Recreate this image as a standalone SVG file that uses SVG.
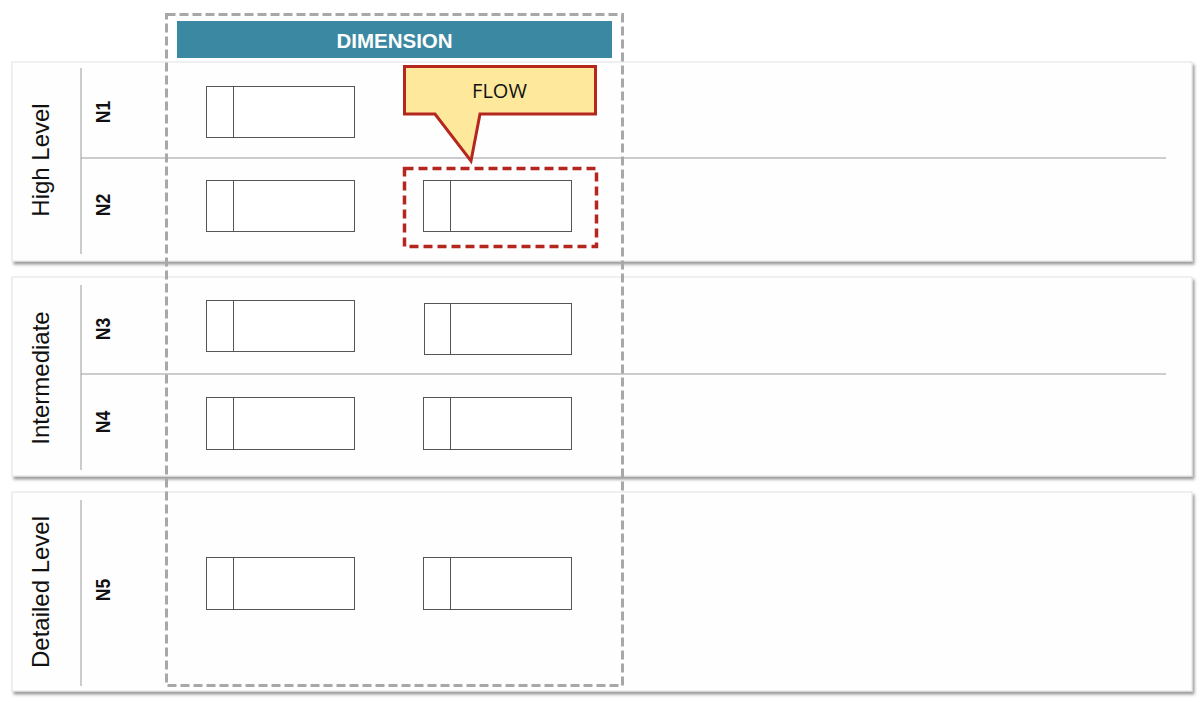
<svg xmlns="http://www.w3.org/2000/svg" width="1200" height="702" viewBox="0 0 1200 702">
<defs>
<filter id="sh" x="-5%" y="-5%" width="110%" height="115%">
<feDropShadow dx="2" dy="3" stdDeviation="1.5" flood-color="#000" flood-opacity="0.4"/>
</filter>
<style>
.panel{fill:#fefefe;stroke:#e2e2e2;stroke-width:1;filter:url(#sh)}
.sep{stroke:#9a9a9a;stroke-width:1;fill:none}
.box{fill:#fff;stroke:#555;stroke-width:1}
.lvl{font-family:"Liberation Sans",Arial,sans-serif;font-size:24px;fill:#111}
.row{font-family:"Liberation Sans",Arial,sans-serif;font-size:20px;font-weight:bold;fill:#111}
</style>
</defs>
<rect width="1200" height="702" fill="#fff"/>
<g id="panel-high">
<rect class="panel" x="12" y="62" width="1180" height="199"/>
<line class="sep" x1="81" y1="68" x2="81" y2="254"/>
<line class="sep" x1="81" y1="158" x2="1166" y2="158"/>
<text class="lvl" transform="translate(49,160) rotate(-90)" text-anchor="middle">High Level</text>
</g>
<g id="panel-intermediate">
<rect class="panel" x="12" y="277" width="1180" height="199"/>
<line class="sep" x1="81" y1="285" x2="81" y2="470"/>
<line class="sep" x1="81" y1="374" x2="1166" y2="374"/>
<text class="lvl" transform="translate(49,378) rotate(-90)" text-anchor="middle">Intermediate</text>
</g>
<g id="panel-detailed">
<rect class="panel" x="12" y="492" width="1180" height="199"/>
<line class="sep" x1="81" y1="500" x2="81" y2="686"/>
<text class="lvl" transform="translate(49,592) rotate(-90)" text-anchor="middle">Detailed Level</text>
</g>
<g id="row-labels">
<text class="row" transform="translate(110,112) rotate(-90) scale(0.88,1)" text-anchor="middle">N1</text>
<text class="row" transform="translate(110,205) rotate(-90) scale(0.88,1)" text-anchor="middle">N2</text>
<text class="row" transform="translate(110,329) rotate(-90) scale(0.88,1)" text-anchor="middle">N3</text>
<text class="row" transform="translate(110,422) rotate(-90) scale(0.88,1)" text-anchor="middle">N4</text>
<text class="row" transform="translate(110,590) rotate(-90) scale(0.88,1)" text-anchor="middle">N5</text>
</g>
<g id="dimension">
<rect x="166.5" y="14.5" width="456" height="671" fill="none" stroke="#a8a8a8" stroke-width="3" stroke-dasharray="9,4"/>
<rect x="177" y="21" width="435" height="37" fill="#3b88a2"/>
<text x="394.5" y="48" text-anchor="middle" font-family="Liberation Sans,Arial,sans-serif" font-size="20.5" font-weight="bold" fill="#fff">DIMENSION</text>
</g>
<g id="n1-a"><rect class="box" x="206.5" y="86.5" width="148" height="51"/><line class="box" x1="233.5" y1="86.5" x2="233.5" y2="137.5"/></g>
<g id="n2-a"><rect class="box" x="206.5" y="180.5" width="148" height="51"/><line class="box" x1="233.5" y1="180.5" x2="233.5" y2="231.5"/></g>
<g id="n2-b"><rect class="box" x="423.5" y="180.5" width="148" height="51"/><line class="box" x1="450.5" y1="180.5" x2="450.5" y2="231.5"/></g>
<g id="n3-a"><rect class="box" x="206.5" y="300.5" width="148" height="51"/><line class="box" x1="233.5" y1="300.5" x2="233.5" y2="351.5"/></g>
<g id="n3-b"><rect class="box" x="424.5" y="303.5" width="147" height="51"/><line class="box" x1="450.5" y1="303.5" x2="450.5" y2="354.5"/></g>
<g id="n4-a"><rect class="box" x="206.5" y="397.5" width="148" height="52"/><line class="box" x1="233.5" y1="397.5" x2="233.5" y2="449.5"/></g>
<g id="n4-b"><rect class="box" x="423.5" y="397.5" width="148" height="52"/><line class="box" x1="450.5" y1="397.5" x2="450.5" y2="449.5"/></g>
<g id="n5-a"><rect class="box" x="206.5" y="557.5" width="148" height="52"/><line class="box" x1="233.5" y1="557.5" x2="233.5" y2="609.5"/></g>
<g id="n5-b"><rect class="box" x="423.5" y="557.5" width="148" height="52"/><line class="box" x1="450.5" y1="557.5" x2="450.5" y2="609.5"/></g>
<g id="highlight">
<rect x="404.5" y="168.5" width="192" height="78" fill="none" stroke="#b5261e" stroke-width="3.5" stroke-dasharray="9,5"/>
</g>
<g id="connectors">
<path id="flow-callout" d="M404.5,66.5 H595.5 V114 H480 L471,161 L435,114 H404.5 Z" fill="#fde89b" stroke="#b5261e" stroke-width="3" stroke-linejoin="miter"/>
<text x="499.5" y="98" text-anchor="middle" font-family="Open Sans,Liberation Sans,sans-serif" font-size="20" fill="#111">FLOW</text>
</g>
</svg>
